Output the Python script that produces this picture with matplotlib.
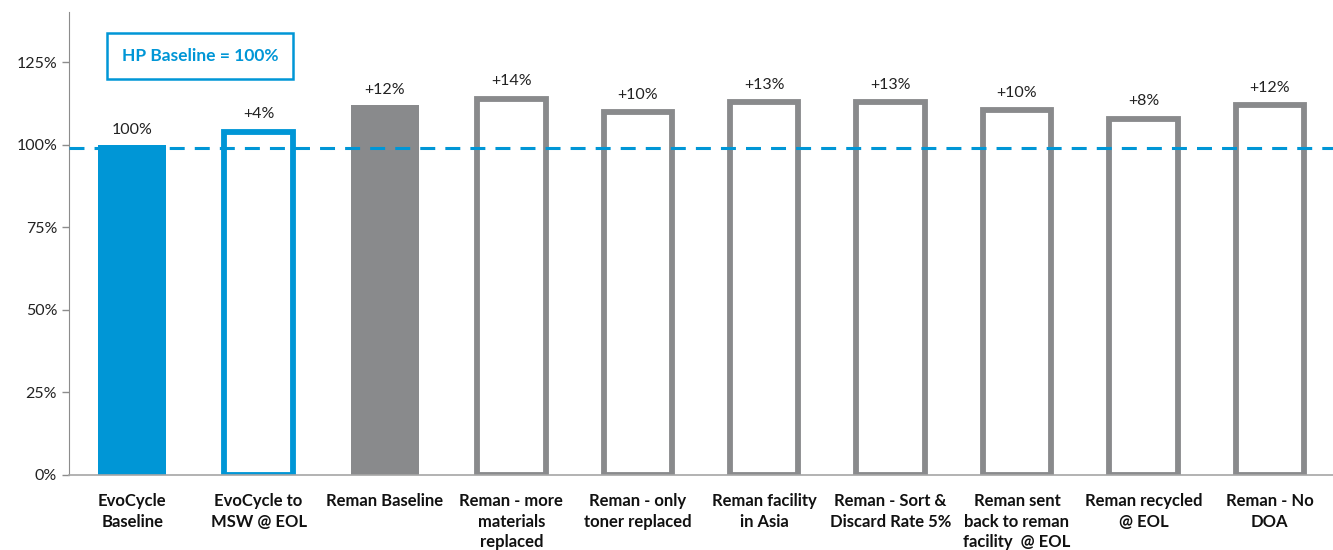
import matplotlib
matplotlib.use("Agg")
import matplotlib.pyplot as plt

categories = ["EvoCycle\nBaseline", "EvoCycle to\nMSW @ EOL", "Reman Baseline",
              "Reman - more\nmaterials\nreplaced", "Reman - only\ntoner replaced",
              "Reman facility\nin Asia", "Reman - Sort &\nDiscard Rate 5%",
              "Reman sent\nback to reman\nfacility  @ EOL", "Reman recycled\n@ EOL", "Reman - No\nDOA"]
values = [100, 104, 112, 114, 110, 113, 113, 110.5, 108, 112]
labels = ["100%", "+4%", "+12%", "+14%", "+10%", "+13%", "+13%", "+10%", "+8%", "+12%"]
baseline = 99.2
yticks = [0, 25, 50, 75, 100, 125]
ytick_labels = ["0%", "25%", "50%", "75%", "100%", "125%"]

BLUE = "#0096D6"
GRAY = "#898A8C"

plt.rcParams['font.family'] = ['Lato', 'DejaVu Sans']

fig = plt.figure(figsize=(13.33, 5.5), dpi=100)
ax = fig.add_axes([69/1333, 75/550, 1 - 69/1333, (475-12)/550])

x = list(range(len(categories)))
w = 0.54
for i, v in enumerate(values):
    if i == 0:
        ax.bar(i, v, width=w, color=BLUE, edgecolor="none", zorder=2)
    elif i == 1:
        ax.bar(i, v, width=w, facecolor="none", edgecolor=BLUE, linewidth=4.2, zorder=2)
    elif i == 2:
        ax.bar(i, v, width=w, color=GRAY, edgecolor="none", zorder=2)
    else:
        ax.bar(i, v, width=w, facecolor="none", edgecolor=GRAY, linewidth=4.2, zorder=2)
    off = 6 if i in (0, 2) else 7.5
    ax.annotate(labels[i], (i, v), xytext=(0, off), textcoords="offset points",
                ha="center", va="bottom", fontsize=11.5, color="#222222")

ax.axhline(baseline, color=BLUE, linestyle=(0, (4.9, 3.3)), linewidth=2.2, zorder=3)

ax.set_xlim(-0.5, len(categories) - 0.5)
ax.set_ylim(0, 140.3)
ax.set_yticks(yticks)
ax.set_yticklabels(ytick_labels, fontsize=11.5, color="#222222")
ax.set_xticks(x)
ax.set_xticklabels(categories, fontsize=12, fontweight="bold", color="#111111",
                   linespacing=1.35)
ax.tick_params(axis="x", length=0, pad=13)
ax.tick_params(axis="y", length=5, color="#8c8c8c", width=1, direction="out")
for s in ["top", "right"]:
    ax.spines[s].set_visible(False)
ax.spines["left"].set_color("#8c8c8c")
ax.spines["bottom"].set_color("#a6a6a6")
ax.spines["bottom"].set_linewidth(1.2)

ax.text(0.536, 127, "HP Baseline = 100%", ha="center", va="center", fontsize=12.5,
        fontweight="bold", color=BLUE, transform=ax.transData,
        bbox=dict(boxstyle="square,pad=0.85", facecolor="white", edgecolor=BLUE, linewidth=1.8))

fig.savefig("out.png", dpi=100)
